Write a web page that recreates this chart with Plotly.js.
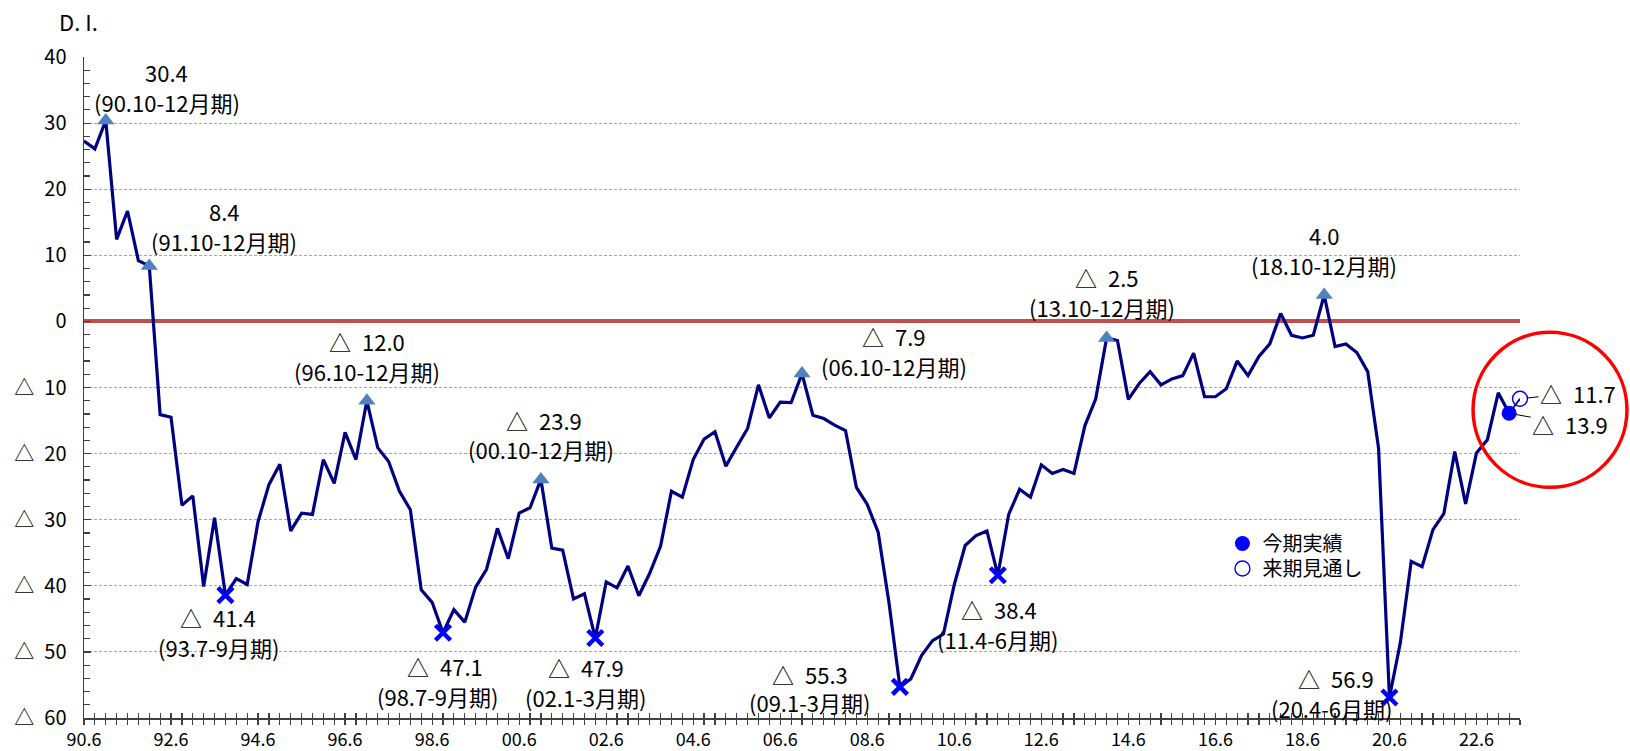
<!DOCTYPE html>
<html>
<head>
<meta charset="utf-8">
<script src="https://cdn.plot.ly/plotly-3.0.1.min.js"></script>
<style>
html,body{margin:0;padding:0;background:#fff;}
#chart{width:1630px;height:751px;}
</style>
</head>
<body>
<div id="chart"></div>
<script>
// ---- data (quarterly D.I., first point = 90.4-6月期) ----
const xTickLabels = ["90.6","92.6","94.6","96.6","98.6","00.6","02.6","04.6","06.6","08.6","10.6","12.6","14.6","16.6","18.6","20.6","22.6"];
const yTickValues = [40, 30, 20, 10, 0, -10, -20, -30, -40, -50, -60];
const yTickLabels = ["40","30","20","10","0","△\u200210","△\u200220","△\u200230","△\u200240","△\u200250","△\u200260"];

const diValues = [
  27.3, 26.1, 30.4, 12.4, 16.7, 9.2, 8.4, -14.1, -14.5, -27.8,
  -26.4, -40.1, -29.7, -41.4, -38.9, -39.8, -30.3, -24.7, -21.6, -31.7,
  -29.0, -29.2, -20.9, -24.5, -16.8, -20.9, -12.0, -19.1, -21.2, -25.7,
  -28.5, -40.6, -42.5, -47.1, -43.6, -45.5, -40.2, -37.5, -31.3, -35.9,
  -29.0, -28.2, -23.9, -34.3, -34.6, -42.0, -41.2, -47.9, -39.4, -40.3,
  -37.0, -41.5, -38.1, -34.0, -25.7, -26.6, -20.9, -17.8, -16.7, -21.9,
  -19.0, -16.2, -9.6, -14.6, -12.2, -12.3, -7.9, -14.2, -14.7, -15.7,
  -16.5, -25.1, -27.7, -31.9, -42.6, -55.3, -54.1, -50.5, -48.3, -47.3,
  -39.8, -33.9, -32.4, -31.7, -38.4, -29.2, -25.4, -26.6, -21.7, -23.0,
  -22.4, -23.0, -15.8, -11.7, -2.5, -2.9, -11.8, -9.4, -7.6, -9.6,
  -8.7, -8.2, -4.8, -11.4, -11.4, -10.2, -6.0, -8.2, -5.3, -3.4,
  1.2, -2.1, -2.5, -2.1, 4.0, -3.8, -3.4, -4.7, -7.6, -19.2,
  -56.9, -48.6, -36.3, -37.1, -31.5, -29.1, -19.7, -27.6, -19.9, -17.9,
  -10.8, -13.9
];
const forecastValue = -11.7;   // 来期見通し

const peakIndex = [2, 6, 26, 42, 66, 94, 114];
const peakPeriods = ["(90.10-12月期)","(91.10-12月期)","(96.10-12月期)","(00.10-12月期)","(06.10-12月期)","(13.10-12月期)","(18.10-12月期)"];
const troughIndex = [13, 33, 47, 75, 84, 120];
const troughPeriods = ["(93.7-9月期)","(98.7-9月期)","(02.1-3月期)","(09.1-3月期)","(11.4-6月期)","(20.4-6月期)"];

const legendCurrent = "今期実績";
const legendNext = "来期見通し";
const yTitle = "D. I.";

// ---- layout helpers (pixel offsets of labels from their markers) ----
const peakLabelOffsets = [
  [61,-48,61,-18],[75,-55,75,-25],[0,-60,0,-30],[3,-59,0,-30],
  [92,-38,92,-8],[0,-61,-5,-31],[0,-60,0,-30]
];
const troughLabelOffsets = [
  [-7,22,-7,52],[2,33,-6,63],[-9,29,-10,59],[-90,-13,-90,15],[1,34,0,64],[-53,-20,-58,10]
];

const FONT = '"Noto Sans CJK JP", "Noto Sans", sans-serif';
const fmt = v => v < 0 ? "△\u2002" + Math.abs(v).toFixed(1) : v.toFixed(1);

const xIdx = diValues.map((_, i) => i);
const lastIdx = diValues.length - 1;
const nextIdx = diValues.length;

const traces = [
  {x: xIdx, y: diValues, type: 'scatter', mode: 'lines',
   line: {color: '#000080', width: 3.2}, showlegend: false, hoverinfo: 'x+y'},
  {x: [lastIdx, nextIdx], y: [diValues[lastIdx], forecastValue], type: 'scatter', mode: 'lines',
   line: {color: '#000080', width: 1.8}, showlegend: false, cliponaxis: false},
  {x: peakIndex, y: peakIndex.map(i => diValues[i]), type: 'scatter', mode: 'markers',
   marker: {symbol: 'triangle-up', size: 15, color: '#4f81bd'}, showlegend: false},
  {x: troughIndex, y: troughIndex.map(i => diValues[i]), type: 'scatter', mode: 'markers',
   marker: {symbol: 'x-thin-open', size: 15, color: '#0000ff', line: {color: '#0000ff', width: 4.5}},
   showlegend: false},
  {x: [lastIdx], y: [diValues[lastIdx]], type: 'scatter', mode: 'markers', name: legendCurrent,
   marker: {symbol: 'circle', size: 15, color: '#0000ff'}, cliponaxis: false, legend: 'legend'},
  {x: [nextIdx], y: [forecastValue], type: 'scatter', mode: 'markers', name: legendNext,
   marker: {symbol: 'circle-open', size: 15, color: '#0000ff', line: {width: 1.4, color: '#0000ff'}},
   cliponaxis: false, legend: 'legend2'},
  // carrier for overlay axis (inside ticks)
  {x: [0], y: [null], xaxis: 'x2', yaxis: 'y', type: 'scatter', mode: 'markers',
   showlegend: false, hoverinfo: 'skip'}
];

const annotations = [];
const txtFont = {family: FONT, size: 22, color: '#000'};
peakIndex.forEach((idx, k) => {
  const o = peakLabelOffsets[k];
  annotations.push({x: idx, y: diValues[idx], xref: 'x', yref: 'y', text: fmt(diValues[idx]),
    showarrow: false, xshift: o[0], yshift: -o[1], font: txtFont, xanchor: 'center', yanchor: 'middle'});
  annotations.push({x: idx, y: diValues[idx], xref: 'x', yref: 'y', text: peakPeriods[k],
    showarrow: false, xshift: o[2], yshift: -o[3], font: txtFont, xanchor: 'center', yanchor: 'middle'});
});
troughIndex.forEach((idx, k) => {
  const o = troughLabelOffsets[k];
  annotations.push({x: idx, y: diValues[idx], xref: 'x', yref: 'y', text: fmt(diValues[idx]),
    showarrow: false, xshift: o[0], yshift: -o[1], font: txtFont, xanchor: 'center', yanchor: 'middle'});
  annotations.push({x: idx, y: diValues[idx], xref: 'x', yref: 'y', text: troughPeriods[k],
    showarrow: false, xshift: o[2], yshift: -o[3], font: txtFont, xanchor: 'center', yanchor: 'middle'});
});
// latest values with leader lines
annotations.push({x: nextIdx, y: forecastValue, xref: 'x', yref: 'y', text: fmt(forecastValue),
  showarrow: true, arrowhead: 0, arrowwidth: 1, arrowcolor: '#000', ax: 58, ay: -6, standoff: 7,
  font: txtFont, xanchor: 'center', yanchor: 'middle'});
annotations.push({x: lastIdx, y: diValues[lastIdx], xref: 'x', yref: 'y', text: fmt(diValues[lastIdx]),
  showarrow: true, arrowhead: 0, arrowwidth: 1, arrowcolor: '#000', ax: 61, ay: 11, standoff: 7,
  font: txtFont, xanchor: 'center', yanchor: 'middle'});
annotations.push({x: -0.0188, y: 1.0545, xref: 'paper', yref: 'paper', text: yTitle, showarrow: false,
  xanchor: 'left', yanchor: 'middle', font: {family: FONT, size: 22, color: '#000'}});

const xTickVals = xTickLabels.map((_, i) => i * 8);

const legendBase = {x: 0.7928, xanchor: 'left', yanchor: 'top', bgcolor: 'rgba(0,0,0,0)',
  font: {family: FONT, size: 20, color: '#000'}, itemsizing: 'trace', itemwidth: 30};

const layout = {
  width: 1630, height: 751,
  margin: {l: 84, r: 110, t: 57, b: 33},
  paper_bgcolor: '#fff', plot_bgcolor: '#fff',
  font: {family: FONT, size: 19, color: '#000'},
  showlegend: true,
  legend: Object.assign({}, legendBase, {y: 0.2935}),
  legend2: Object.assign({}, legendBase, {y: 0.2556}),
  xaxis: {
    range: [0, nextIdx], tickmode: 'array', tickvals: xTickVals, ticktext: xTickLabels,
    ticks: 'outside', ticklen: 5, tickwidth: 1.2, tickcolor: '#404040',
    minor: {tickmode: 'linear', tick0: 0, dtick: 1, ticks: 'outside', ticklen: 5, tickwidth: 1.2, tickcolor: '#404040', showgrid: false},
    showline: true, linecolor: '#404040', linewidth: 1.5, showgrid: false, zeroline: false,
    tickfont: {family: FONT, size: 18, color: '#000'}, ticklabelstandoff: 0,
    fixedrange: true
  },
  xaxis2: {
    range: [0, nextIdx], overlaying: 'x', anchor: 'y', side: 'bottom',
    tickmode: 'linear', tick0: 0, dtick: 1, ticks: 'inside', ticklen: 5, tickwidth: 1.2, tickcolor: '#404040',
    showticklabels: false, showline: false, showgrid: false, zeroline: false
  },
  yaxis: {
    range: [-60, 40], tickmode: 'array', tickvals: yTickValues, ticktext: yTickLabels,
    ticks: 'inside', ticklen: 7, tickwidth: 1.2, tickcolor: '#404040',
    minor: {tickmode: 'linear', tick0: 0, dtick: 2, ticks: 'inside', ticklen: 6, tickwidth: 1.2, tickcolor: '#404040', showgrid: false},
    showline: true, linecolor: '#404040', linewidth: 1.5,
    showgrid: true, gridcolor: '#a6a6a6', gridwidth: 1, griddash: '3px,2px',
    zeroline: true, zerolinecolor: '#c0504d', zerolinewidth: 4,
    tickfont: {family: FONT, size: 20, color: '#000'}, ticklabelstandoff: 12,
    fixedrange: true
  },
  shapes: [
    {type: 'circle', xref: 'paper', yref: 'paper', x0: 0.9673, x1: 1.0745, y0: 0.349, y1: 0.5835,
     line: {color: '#ff0000', width: 3.5}}
  ],
  annotations: annotations
};

Plotly.newPlot('chart', traces, layout, {displayModeBar: false, staticPlot: true});
</script>
</body>
</html>
